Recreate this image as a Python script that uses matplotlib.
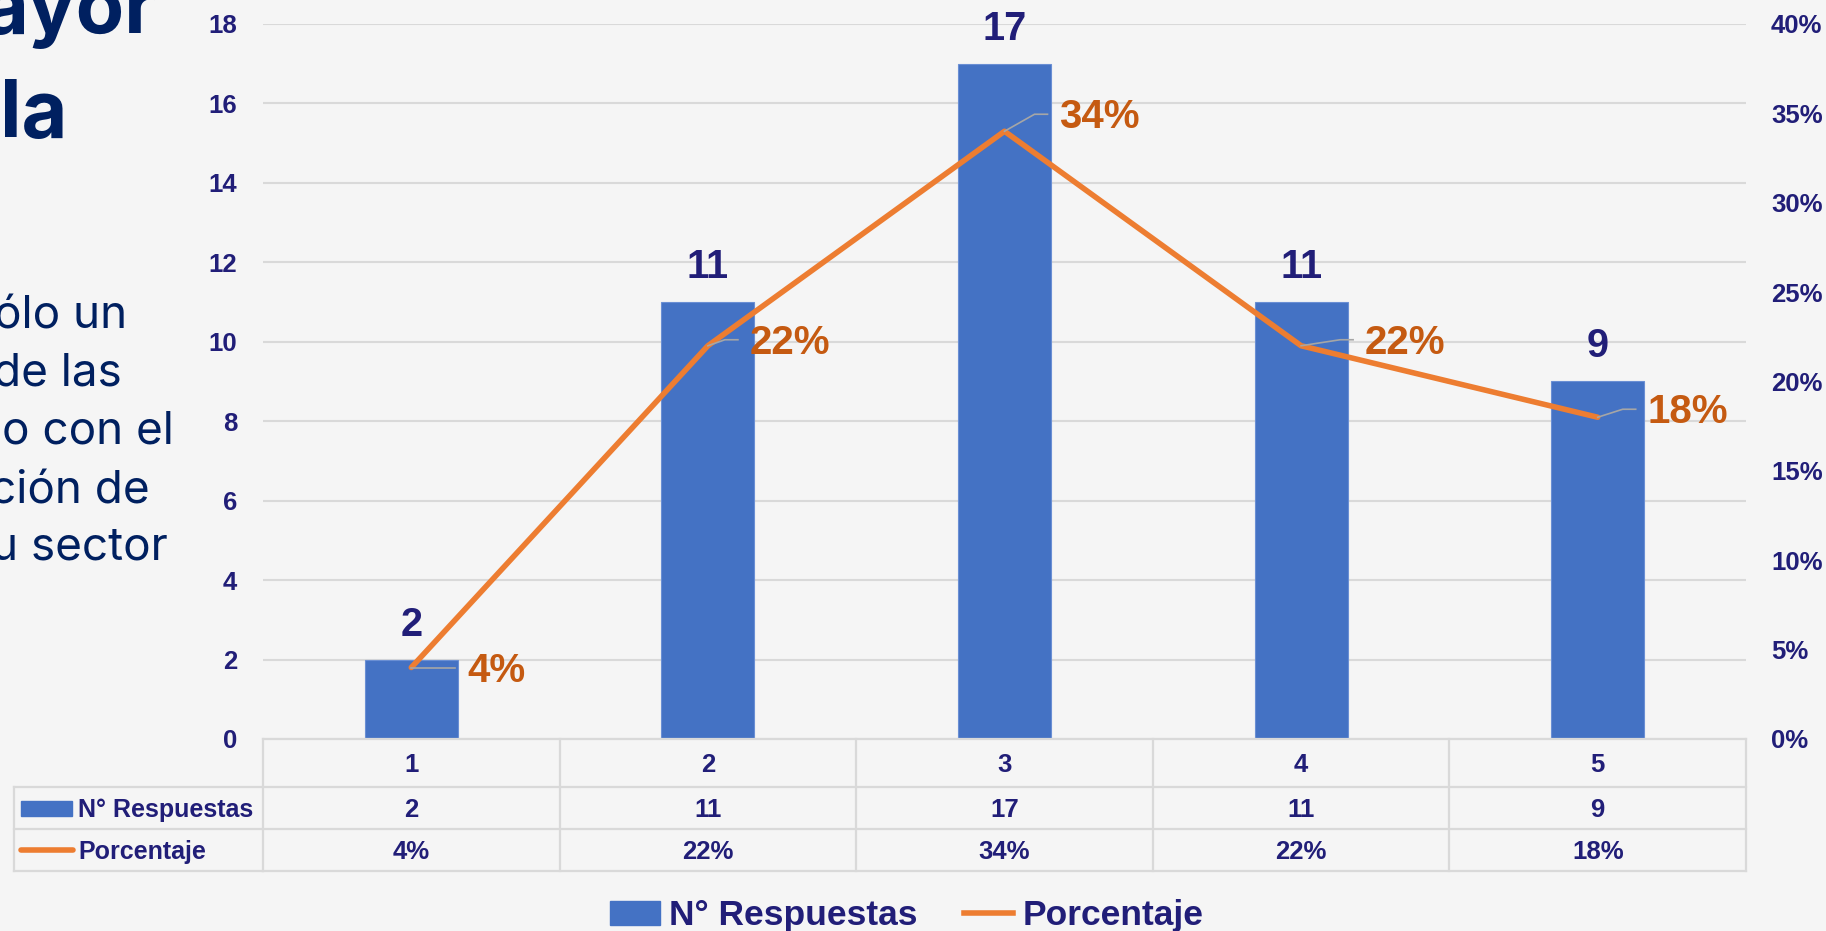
import matplotlib
matplotlib.use('Agg')
import matplotlib.pyplot as plt
from matplotlib import transforms as mtransforms
from matplotlib.lines import Line2D
from matplotlib.patches import Patch, Rectangle
from matplotlib.ticker import PercentFormatter

# ---------------- data ----------------
categories = ['1', '2', '3', '4', '5']
respuestas = [2, 11, 17, 11, 9]
porcentaje = [0.04, 0.22, 0.34, 0.22, 0.18]
left_ticks = [0, 2, 4, 6, 8, 10, 12, 14, 16, 18]
right_ticks = [0.00, 0.05, 0.10, 0.15, 0.20, 0.25, 0.30, 0.35, 0.40]
series_names = ['N° Respuestas', 'Porcentaje']
title_fragments = ['ayor', 'la']
body_fragments = ['ólo un', 'de las', 'o con el', 'ción de', 'u sector']

# ---------------- style ----------------
BG = '#F5F5F5'
BAR = '#4472C4'
ORANGE = '#ED7D31'
ORANGE_TXT = '#C55A11'
NAVY = '#211E78'
TITLE_NAVY = '#002060'
GRID = '#D9D9D9'
LEADER = '#A6A6A6'

plt.rcParams['font.family'] = ['Liberation Sans', 'DejaVu Sans']
plt.rcParams['font.weight'] = 'bold'

W, H, DPI = 1826, 931, 100
fig = plt.figure(figsize=(W / DPI, H / DPI), dpi=DPI, facecolor=BG)


def fx(px):
    return px / W


def fy(py):
    return 1 - py / H


PL, PR, PT, PB = 263, 1746, 24, 739
ax = fig.add_axes([fx(PL), fy(PB), (PR - PL) / W, (PB - PT) / H])
ax.set_facecolor(BG)
xs = list(range(len(categories)))
ax.bar(xs, respuestas, width=0.314, color=BAR, edgecolor='#6A8FD4',
       linewidth=0.8, zorder=2)
ax.set_xlim(-0.5, len(categories) - 0.5)
ax.set_ylim(left_ticks[0], left_ticks[-1])
ax.set_yticks(left_ticks)
ax.set_xticks([])
ax.yaxis.grid(True, color=GRID, lw=1.5)
ax.set_axisbelow(True)
for s in ax.spines.values():
    s.set_visible(False)
ax.tick_params(axis='y', length=0, pad=18.7, labelsize=18.5, labelcolor=NAVY)

ax2 = ax.twinx()
ax2.set_ylim(right_ticks[0], right_ticks[-1])
ax2.set_yticks(right_ticks)
ax2.yaxis.set_major_formatter(PercentFormatter(1.0, decimals=0))
ax2.tick_params(axis='y', length=0, pad=18, labelsize=18.5, labelcolor=NAVY)
for s in ax2.spines.values():
    s.set_visible(False)
ax2.plot(xs, porcentaje, color=ORANGE, lw=4, solid_capstyle='round',
         solid_joinstyle='round', zorder=3)

# bar value labels
for i, v in zip(xs, respuestas):
    ax.annotate(str(v), xy=(i, v), xytext=(0, 24), textcoords='offset pixels',
                ha='center', va='baseline', fontsize=28.5, color=NAVY)

# percentage labels with leader lines
lab_dx = [56, 42, 55, 64, 50]
lab_dy = [0, 6, 17, 6, 8]
for i, p, dx, dy in zip(xs, porcentaje, lab_dx, lab_dy):
    ax2.annotate(f'{round(p * 100)}%', xy=(i, p), xytext=(dx, dy - 14),
                 textcoords='offset pixels', ha='left', va='baseline',
                 fontsize=29, color=ORANGE_TXT, zorder=5)
    px0, py0 = ax2.transData.transform((i, p))
    lx = [px0, px0 + dx - 25, px0 + dx - 12]
    ly = [py0, py0 + dy, py0 + dy]
    fig.add_artist(Line2D(lx, ly, transform=mtransforms.IdentityTransform(),
                          color=LEADER, lw=1.2, zorder=4))

# ---------------- data table ----------------
tr = mtransforms.blended_transform_factory(ax.transData, fig.transFigure)
row_y = [739, 787, 829, 871]
TL = 14
x_lo, x_hi = -0.5, len(categories) - 0.5
fig.add_artist(Line2D([x_lo, x_hi], [fy(row_y[0])] * 2, transform=tr, color=GRID, lw=1.6))
for ry in row_y[1:]:
    fig.add_artist(Line2D([fx(TL), fx(PL)], [fy(ry)] * 2, transform=fig.transFigure,
                          color=GRID, lw=1.6))
    fig.add_artist(Line2D([x_lo, x_hi], [fy(ry)] * 2, transform=tr, color=GRID, lw=1.6))
for k in range(len(categories) + 1):
    xb = x_lo + k
    fig.add_artist(Line2D([xb, xb], [fy(row_y[0]), fy(row_y[-1])], transform=tr,
                          color=GRID, lw=1.6))
fig.add_artist(Line2D([fx(TL), fx(TL)], [fy(row_y[1]), fy(row_y[-1])],
                      transform=fig.transFigure, color=GRID, lw=1.6))

row_base = [772, 817, 859]
pct_labels = [f'{round(p * 100)}%' for p in porcentaje]
for i in xs:
    fig.text(i, fy(row_base[0]), categories[i], transform=tr, ha='center',
             va='baseline', fontsize=18.5, color=NAVY)
    fig.text(i, fy(row_base[1]), str(respuestas[i]), transform=tr, ha='center',
             va='baseline', fontsize=18.5, color=NAVY)
    fig.text(i, fy(row_base[2]), pct_labels[i], transform=tr, ha='center',
             va='baseline', fontsize=18.5, color=NAVY)

# row headers with legend keys
fig.add_artist(Rectangle((fx(21), fy(816)), (72 - 21) / W, 15 / H,
                         transform=fig.transFigure, color=BAR))
fig.add_artist(Line2D([fx(21), fx(73)], [fy(850)] * 2, transform=fig.transFigure,
                      color=ORANGE, lw=4, solid_capstyle='round'))
fig.text(fx(78), fy(row_base[1]), series_names[0], ha='left', va='baseline',
         fontsize=18, color=NAVY)
fig.text(fx(78), fy(row_base[2]), series_names[1], ha='left', va='baseline',
         fontsize=18, color=NAVY)

# ---------------- bottom legend ----------------
handles = [Patch(facecolor=BAR, edgecolor=BAR),
           Line2D([], [], color=ORANGE, lw=4)]
fig.legend(handles, series_names, loc='center', bbox_to_anchor=(fx(907), fy(916)),
           ncol=2, frameon=False, fontsize=25.5, handlelength=1.4, handleheight=0.65,
           handletextpad=0.26, columnspacing=1.3, labelcolor=NAVY,
           borderaxespad=0, borderpad=0)

# ---------------- partial slide text on the left ----------------
title_base = [33, 137]
title_right = [157, 67]
for t, b, r in zip(title_fragments, title_base, title_right):
    fig.text(fx(r), fy(b), t, ha='right', va='baseline', fontsize=57,
             fontweight='bold', family=['Inter', 'DejaVu Sans'], color=TITLE_NAVY)

body_base = [328, 386, 444, 503, 559]
body_right = [127, 122, 174, 150, 168]
for t, b, r in zip(body_fragments, body_base, body_right):
    fig.text(fx(r), fy(b), t, ha='right', va='baseline', fontsize=33,
             fontweight='normal', family=['Inter', 'DejaVu Sans'], color=TITLE_NAVY)

fig.savefig('out.png', dpi=DPI, facecolor=BG)
